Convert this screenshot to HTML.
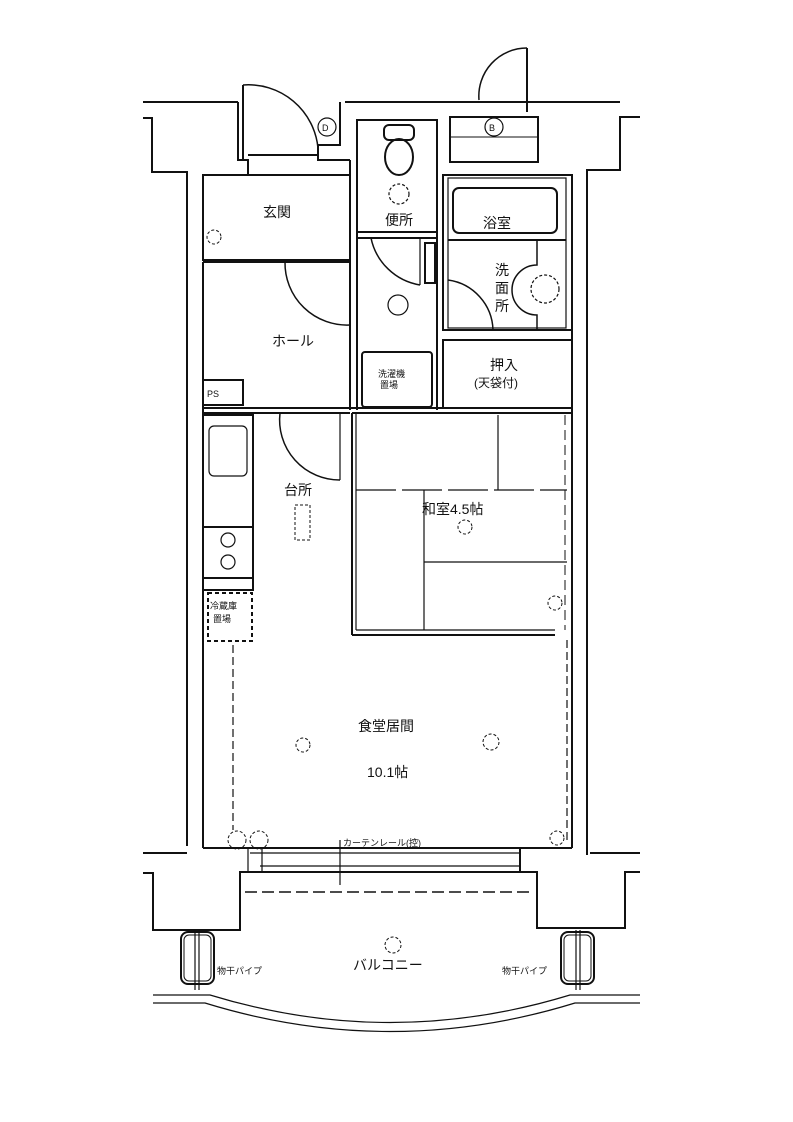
<!DOCTYPE html>
<html><head><meta charset="utf-8"><style>
html,body{margin:0;padding:0;background:#fff}
svg{display:block}
text{font-family:"Liberation Sans","Noto Sans CJK JP",sans-serif;fill:#111}
</style></head><body>
<svg width="793" height="1122" viewBox="0 0 793 1122" xmlns="http://www.w3.org/2000/svg">
<g fill="none" stroke="#111" stroke-width="2">
<!-- top outer -->
<polyline points="143,102 238,102"/>
<polyline points="143,118 152,118 152,172 187,172 187,846"/>
<polyline points="345,102 620,102"/>
<polyline points="640,117 620,117 620,170 587,170 587,855"/>
<polyline points="238,102 238,160 248,160 248,175"/>
<line x1="243" y1="85" x2="243" y2="160"/>
<path d="M243,85 A70,70 0 0 1 318,148" stroke-width="1.5"/>
<polyline points="248,155 318,155"/>
<polyline points="318,145 340,145 340,102"/>
<polyline points="318,145 318,160 350,160"/>
<!-- door B top -->
<line x1="527" y1="48" x2="527" y2="112"/>
<path d="M479,100 A48,48 0 0 1 527,48" stroke-width="1.5"/>
<rect x="450" y="117" width="88" height="45"/>
<line x1="450" y1="137" x2="537" y2="137" stroke-width="1"/>
<!-- inner rooms -->
<rect x="203" y="175" width="147" height="85"/>
<line x1="203" y1="262" x2="350" y2="262"/>
<line x1="350" y1="160" x2="350" y2="410"/>
<line x1="357" y1="120" x2="357" y2="410"/>
<rect x="357" y="120" width="80" height="112"/>
<line x1="437" y1="120" x2="437" y2="410"/>
<line x1="357" y1="238" x2="437" y2="238"/>
<rect x="362" y="352" width="70" height="55" rx="3"/>
<rect x="425" y="243" width="10" height="40"/>
<path d="M371,238 A60,60 0 0 0 420,285" stroke-width="1.5"/>
<line x1="420" y1="285" x2="420" y2="238" stroke-width="1.2"/>
<!-- toilet -->
<rect x="384" y="125" width="30" height="15" rx="5"/>
<ellipse cx="399" cy="157" rx="14" ry="18"/>
<circle cx="399" cy="194" r="10" stroke-dasharray="3 2" stroke-width="1.2"/>
<circle cx="398" cy="305" r="10" stroke-width="1.2"/>
<!-- bath -->
<rect x="443" y="175" width="129" height="155"/>
<rect x="448" y="178" width="118" height="150" stroke-width="1.2"/>
<rect x="453" y="188" width="104" height="45" rx="6"/>
<line x1="448" y1="240" x2="566" y2="240"/>
<path d="M537,240 L537,265 A25,25 0 0 0 537,315 L537,330" stroke-width="1.5"/>
<circle cx="545" cy="289" r="14" stroke-dasharray="3 2" stroke-width="1.2"/>
<path d="M448,280 A52,52 0 0 1 493,330" stroke-width="1.5"/>
<rect x="443" y="340" width="129" height="68"/>
<!-- hall -->
<line x1="203" y1="262" x2="203" y2="848"/>
<rect x="203" y="380" width="40" height="25"/>
<path d="M285,262 A62,62 0 0 0 350,325" stroke-width="1.5"/>
<line x1="203" y1="408" x2="572" y2="408"/>
<line x1="203" y1="413" x2="350" y2="413"/>
<!-- kitchen -->
<rect x="203" y="415" width="50" height="175"/>
<rect x="209" y="426" width="38" height="50" rx="5" stroke-width="1.2"/>
<line x1="203" y1="527" x2="253" y2="527"/>
<line x1="203" y1="578" x2="253" y2="578"/>
<circle cx="228" cy="540" r="7" stroke-width="1.2"/>
<circle cx="228" cy="562" r="7" stroke-width="1.2"/>
<rect x="208" y="593" width="44" height="48" stroke-dasharray="4 3"/>
<path d="M280,413 A60,60 0 0 0 340,480" stroke-width="1.5"/>
<line x1="340" y1="413" x2="340" y2="480" stroke-width="1.2"/>
<rect x="295" y="505" width="15" height="35" stroke-dasharray="3 2" stroke-width="1"/>
<!-- washitsu -->
<line x1="352" y1="413" x2="352" y2="635"/>
<line x1="356" y1="413" x2="356" y2="630" stroke-width="1.2"/>
<line x1="352" y1="413" x2="572" y2="413"/>
<line x1="572" y1="175" x2="572" y2="848"/>
<line x1="352" y1="635" x2="555" y2="635"/>
<line x1="356" y1="630" x2="555" y2="630" stroke-width="1.2"/>
<line x1="498" y1="415" x2="498" y2="490" stroke-width="1.2"/>
<line x1="356" y1="490" x2="567" y2="490" stroke-width="1.2" stroke-dasharray="40 6"/>
<line x1="424" y1="490" x2="424" y2="630" stroke-width="1.2"/>
<line x1="424" y1="562" x2="567" y2="562" stroke-width="1.2"/>
<line x1="565" y1="415" x2="565" y2="630" stroke-width="1" stroke-dasharray="10 5"/>
<!-- living -->
<line x1="233" y1="645" x2="233" y2="830" stroke-dasharray="8 4" stroke-width="1.2"/>
<line x1="567" y1="640" x2="567" y2="840" stroke-dasharray="8 4" stroke-width="1.2"/>
<line x1="203" y1="848" x2="572" y2="848"/>
<line x1="250" y1="853" x2="520" y2="853" stroke-width="1.2"/>
<line x1="260" y1="866" x2="520" y2="866" stroke-width="1.2"/>
<rect x="248" y="848" width="14" height="24" stroke-width="1.2"/>
<line x1="520" y1="848" x2="520" y2="872"/>
<line x1="340" y1="840" x2="340" y2="885" stroke-width="1.2"/>
<!-- bottom -->
<polyline points="143,853 187,853"/>
<polyline points="590,853 640,853"/>
<polyline points="143,873 153,873 153,930 240,930 240,872 537,872 537,928 625,928 625,872 640,872"/>
<line x1="245" y1="892" x2="532" y2="892" stroke-dasharray="12 5" stroke-width="1.5"/>
<rect x="181" y="932" width="33" height="52" rx="7"/>
<rect x="184" y="935" width="27" height="46" rx="5" stroke-width="1"/>
<line x1="195" y1="930" x2="195" y2="990" stroke-width="1.2"/>
<line x1="199" y1="930" x2="199" y2="990" stroke-width="1.2"/>
<rect x="561" y="932" width="33" height="52" rx="7"/>
<rect x="564" y="935" width="27" height="46" rx="5" stroke-width="1"/>
<line x1="576" y1="930" x2="576" y2="990" stroke-width="1.2"/>
<line x1="580" y1="930" x2="580" y2="990" stroke-width="1.2"/>
<path d="M153,995 L210,995 Q390,1050 570,995 L640,995" stroke-width="1.2"/>
<path d="M153,1003 L205,1003 Q390,1060 575,1003 L640,1003" stroke-width="1.2"/>
<circle cx="393" cy="945" r="8" stroke-dasharray="3 2" stroke-width="1"/>
<circle cx="465" cy="527" r="7" stroke-dasharray="3 2" stroke-width="1"/>
<circle cx="303" cy="745" r="7" stroke-dasharray="3 2" stroke-width="1"/>
<circle cx="491" cy="742" r="8" stroke-dasharray="3 2" stroke-width="1"/>
<circle cx="555" cy="603" r="7" stroke-dasharray="3 2" stroke-width="1"/>
<circle cx="557" cy="838" r="7" stroke-dasharray="3 2" stroke-width="1"/>
<circle cx="214" cy="237" r="7" stroke-dasharray="3 2" stroke-width="1"/>
<circle cx="327" cy="127" r="9" stroke-width="1.2"/>
<circle cx="494" cy="127" r="9" stroke-width="1.2"/>
<circle cx="237" cy="840" r="9" stroke-dasharray="3 2" stroke-width="1"/>
<circle cx="259" cy="840" r="9" stroke-dasharray="3 2" stroke-width="1"/>
</g>
<g font-size="14">
<text x="263" y="217">玄関</text>
<text x="385" y="225">便所</text>
<text x="483" y="228">浴室</text>
<text x="495" y="275">洗</text><text x="495" y="293">面</text><text x="495" y="311">所</text>
<text x="490" y="370">押入</text>
<text x="474" y="387" font-size="12">(天袋付)</text>
<text x="272" y="346">ホール</text>
<text x="284" y="495">台所</text>
<text x="422" y="514">和室4.5帖</text>
<text x="358" y="731">食堂居間</text>
<text x="367" y="777">10.1帖</text>
<text x="353" y="970">バルコニー</text>
</g>
<g font-size="9">
<text x="322" y="131">D</text>
<text x="489" y="131">B</text>
<text x="207" y="397">PS</text>
<text x="378" y="377">洗濯機</text>
<text x="380" y="388">置場</text>
<text x="210" y="609">冷蔵庫</text>
<text x="213" y="622">置場</text>
<text x="343" y="846">カーテンレール(控)</text>
<text x="217" y="974">物干パイプ</text>
<text x="502" y="974">物干パイプ</text>
</g>
</svg>
</body></html>
